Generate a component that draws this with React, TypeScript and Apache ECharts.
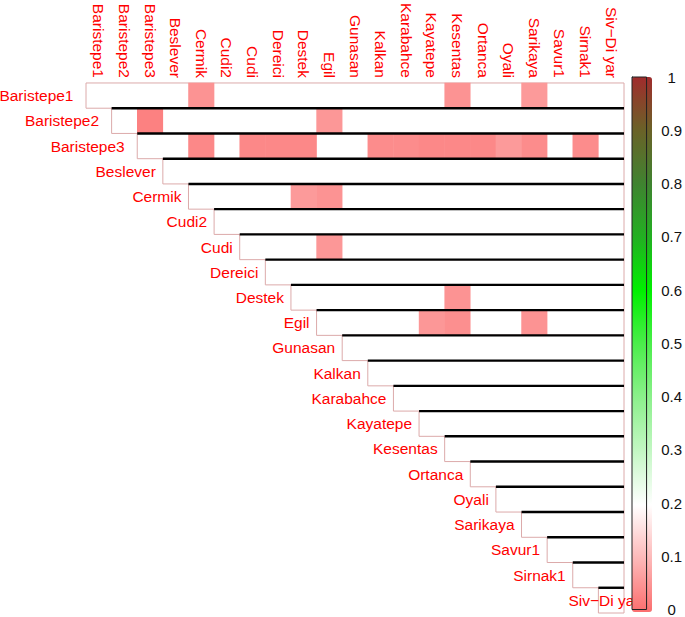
import React, { useEffect, useRef } from "react";
import * as echarts from "echarts";

const categories = [
  "Baristepe1", "Baristepe2", "Baristepe3", "Beslever", "Cermik", "Cudi2", "Cudi",
  "Dereici", "Destek", "Egil", "Gunasan", "Kalkan", "Karabahce", "Kayatepe",
  "Kesentas", "Ortanca", "Oyali", "Sarikaya", "Savur1", "Sirnak1", "Siv−Di yar",
];

// shaded (significant) cells: column category, row category, value
const cellCols = [
  "Cermik", "Kesentas", "Sarikaya",
  "Baristepe3", "Egil",
  "Cermik", "Cudi", "Dereici", "Destek", "Kalkan", "Karabahce", "Kayatepe", "Kesentas", "Ortanca", "Oyali", "Sarikaya", "Sirnak1",
  "Destek", "Egil",
  "Egil",
  "Kesentas",
  "Kayatepe", "Kesentas", "Sarikaya",
];
const cellRows = [
  "Baristepe1", "Baristepe1", "Baristepe1",
  "Baristepe2", "Baristepe2",
  "Baristepe3", "Baristepe3", "Baristepe3", "Baristepe3", "Baristepe3", "Baristepe3", "Baristepe3", "Baristepe3", "Baristepe3", "Baristepe3", "Baristepe3", "Baristepe3",
  "Cermik", "Cermik",
  "Cudi",
  "Destek",
  "Egil", "Egil", "Egil",
];
const cellValues = [
  0.05, 0.05, 0.06,
  0.025, 0.055,
  0.035, 0.035, 0.035, 0.035, 0.04, 0.04, 0.035, 0.035, 0.035, 0.06, 0.04, 0.04,
  0.06, 0.05,
  0.055,
  0.05,
  0.055, 0.045, 0.05,
];

const scaleColors = [
  "#fb6e6e", "#fdb8b8", "#ffffff", "#c4f7c4", "#8cf08c", "#4cee4c",
  "#00f000", "#22b022", "#3f8330", "#6a6228", "#a02c2c",
];
const scaleTicks = [0, 0.1, 0.2, 0.3, 0.4, 0.5, 0.6, 0.7, 0.8, 0.9, 1];

const FONT = '"Liberation Sans", Arial, Helvetica, sans-serif';
// horizontal gap between a row label and its row (px); a few labels sit further out
const LABEL_GAP = 7;
const WIDE_GAP_ROWS = ["Baristepe1", "Baristepe2", "Baristepe3"];
const WIDE_GAP = 12.5;

export default function App() {
  const ref = useRef<HTMLDivElement>(null);
  useEffect(() => {
    if (!ref.current) return;
    const chart = echarts.init(ref.current, null, { renderer: "svg" });
    const n = categories.length;
    const rowData = categories.map((c, i) => [i, i, c]);
    const heatData = cellValues.map((v, k) => [
      categories.indexOf(cellCols[k]),
      categories.indexOf(cellRows[k]),
      v,
    ]);

    const boxGeom = (api: any, i: number) => {
      const c = api.coord([i, i]);
      const s = api.size([1, 1]);
      const left = c[0] - s[0] / 2;
      const right = api.coord([n - 1, i])[0] + s[0] / 2;
      return { x: left, y: c[1] - s[1] / 2, w: right - left, h: s[1], cy: c[1] };
    };

    chart.setOption({
      animation: false,
      backgroundColor: "#ffffff",
      grid: [
        { left: 86, right: 61, top: 77, bottom: 4 },
        {
          left: 632, top: 77, width: 20, height: 535, show: true,
          borderColor: "#222", borderWidth: 1, backgroundColor: "transparent", z: 5,
        },
      ],
      xAxis: [
        {
          type: "category", data: categories, position: "top", gridIndex: 0,
          axisLine: { show: false }, axisTick: { show: false }, splitLine: { show: false },
          axisLabel: {
            rotate: 90, interval: 0, color: "#ff0000", fontSize: 15.5, fontFamily: FONT, margin: 5,
          },
        },
        { type: "value", gridIndex: 1, show: false, min: 0, max: 1 },
      ],
      yAxis: [
        {
          type: "category", data: categories, inverse: true, gridIndex: 0,
          axisLine: { show: false }, axisTick: { show: false }, axisLabel: { show: false },
          splitLine: { show: false },
        },
        {
          type: "value", gridIndex: 1, position: "right", min: 0, max: 1, interval: 0.1,
          axisLine: { show: true, lineStyle: { color: "#222", width: 1 } },
          axisTick: { show: true, length: 5, lineStyle: { color: "#222" } },
          splitLine: { show: false },
          axisLabel: {
            color: "#111", fontSize: 15, fontFamily: FONT, margin: 25, align: "center",
            formatter: (v: number) => (scaleTicks.some((t) => Math.abs(t - v) < 1e-6) ? String(+v.toFixed(1)) : ""),
          },
        },
      ],
      visualMap: {
        type: "continuous", min: 0, max: 1, seriesIndex: 1, calculable: false,
        orient: "vertical", left: 632, top: 77, itemWidth: 20, itemHeight: 535,
        padding: 0, text: ["", ""], showLabel: false,
        inRange: { color: scaleColors },
      },
      series: [
        {
          type: "custom", xAxisIndex: 0, yAxisIndex: 0, z: 1, clip: false, silent: true,
          data: rowData,
          renderItem: (params: any, api: any) => {
            const i = api.value(0);
            const g = boxGeom(api, i);
            return {
              type: "rect",
              shape: { x: g.x, y: g.y, width: g.w, height: g.h },
              style: { fill: "#ffffff", stroke: "#dcaaaa", lineWidth: 1 },
            };
          },
        },
        {
          type: "heatmap", xAxisIndex: 0, yAxisIndex: 0, z: 2, data: heatData,
          itemStyle: { borderWidth: 0 },
        },
        {
          type: "custom", xAxisIndex: 0, yAxisIndex: 0, z: 3, clip: false, silent: true,
          data: rowData,
          renderItem: (params: any, api: any) => {
            const i = api.value(0);
            const g = boxGeom(api, i);
            const label = categories[i];
            const last = i === n - 1;
            const gap = WIDE_GAP_ROWS.includes(label) ? WIDE_GAP : LABEL_GAP;
            const children: any[] = [];
            if (i > 0) {
              children.push({
                type: "line",
                shape: { x1: g.x, y1: g.y, x2: g.x + g.w, y2: g.y },
                style: { stroke: "#000000", lineWidth: 2.4 },
              });
            }
            children.push({
              type: "text",
              style: {
                text: label,
                x: last ? g.x - 30 : g.x - gap,
                y: g.cy,
                align: last ? "left" : "right",
                verticalAlign: "middle",
                fill: "#ff0000",
                fontSize: 15.5,
                fontFamily: FONT,
              },
            });
            return { type: "group", children };
          },
        },
      ],
    });
    return () => chart.dispose();
  }, []);
  return <div ref={ref} style={{ width: 685, height: 617, position: "absolute", left: 0, top: 0 }} />;
}
